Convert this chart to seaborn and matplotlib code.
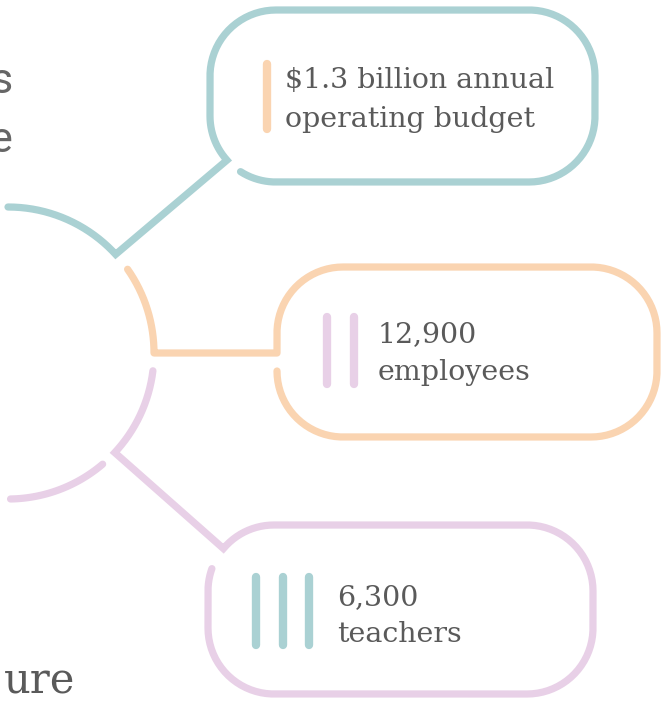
import numpy as np
import matplotlib.pyplot as plt
import seaborn as sns

# Facts shown in the three bubbles
labels_top = ["$1.3 billion annual", "12,900", "6,300"]
labels_bottom = ["operating budget", "employees", "teachers"]
tally_counts = [1, 2, 3]
box_colors = ["#aad1d3", "#fad4b1", "#e8d0e7"]
tally_colors = ["#fad4b1", "#e8d0e7", "#aad1d3"]

# Text fragments cut off at the left edge
side_text = ["s", "e", "ure"]

sns.set_theme(style="white")
TEXT = "#5a5a5a"

fig = plt.figure(figsize=(6.62, 7.01), dpi=100)
ax = fig.add_axes([0, 0, 1, 1])
ax.set_xlim(0, 662)
ax.set_ylim(701, 0)
ax.axis("off")

# big circle on the left (pixel coords, y down)
CX, CY, R = 8, 353, 146


def arc(t0, t1):
    t = np.radians(np.linspace(t0, t1, 80))
    return list(CX + R * np.cos(t)), list(CY + R * np.sin(t))


def box_outline(x0, y0, x1, y1, r, a0, a1):
    # walk round a rounded box, angle 0-90 = bottom right corner, then clockwise
    cen = {0: (x1 - r, y1 - r), 1: (x0 + r, y1 - r), 2: (x0 + r, y0 + r), 3: (x1 - r, y0 + r)}
    xs, ys = [], []
    k = int(np.floor(a0 / 90))
    while 90 * k < a1:
        s, e = max(a0, 90 * k), min(a1, 90 * (k + 1))
        if e > s:
            t = np.radians(np.linspace(s, e, 40))
            cx, cy = cen[k % 4]
            xs += list(cx + r * np.cos(t))
            ys += list(cy + r * np.sin(t))
        k += 1
    return xs, ys


def draw(xs, ys, color, join="miter"):
    sns.lineplot(x=xs, y=ys, sort=False, estimator=None, color=color, lw=5.2,
                 solid_capstyle="round", solid_joinstyle=join, ax=ax)


# teal: arc + tail + top bubble
ax_, ay_ = arc(-90, -42.5)
bx, by = box_outline(210, 10, 595, 182, 66, 138, 482.5)
draw(ax_ + bx, ay_ + by, box_colors[0])

# peach: arc + horizontal connector + middle bubble
ax_, ay_ = arc(-35, 0)
bx, by = box_outline(277, 267, 657, 437, 66, 180, 540)
draw(ax_ + [277] + bx, ay_ + [353] + by, box_colors[1], join="round")

# lilac: arc + tail + bottom bubble, plus the lower arc piece
ax_, ay_ = arc(7, 43)
bx, by = box_outline(208, 525, 593, 694, 66, 220, 559.8)
draw(ax_ + bx, ay_ + by, box_colors[2])
ax_, ay_ = arc(49.6, 89)
draw(ax_, ay_, box_colors[2])

# tally marks
tally_x0 = [267, 327, 256]
tally_y = [(64, 129), (317, 384), (577, 645)]
for n, x0, (ya, yb), c in zip(tally_counts, tally_x0, tally_y, tally_colors):
    for i in range(n):
        x = x0 + i * 26.5
        ax.plot([x, x], [ya, yb], color=c, lw=6, solid_capstyle="round")

# bubble text
text_x = [285, 378, 337]
base1 = [88, 342, 605]
base2 = [127, 380, 642]
for t1, t2, x, y1, y2 in zip(labels_top, labels_bottom, text_x, base1, base2):
    ax.text(x, y1, t1, family="DejaVu Serif", fontsize=20.5, color=TEXT, va="baseline", ha="left")
    ax.text(x, y2, t2, family="DejaVu Serif", fontsize=20.5, color=TEXT, va="baseline", ha="left")

# cut-off text on the left
ax.text(13, 93, side_text[0], family="Roboto", fontsize=31, color="#666666", va="baseline", ha="right")
ax.text(13, 152, side_text[1], family="Roboto", fontsize=31, color="#666666", va="baseline", ha="right")
ax.text(75, 694, side_text[2], family="DejaVu Serif", fontsize=30, color=TEXT, va="baseline", ha="right")

fig.savefig("out.png", dpi=100)
